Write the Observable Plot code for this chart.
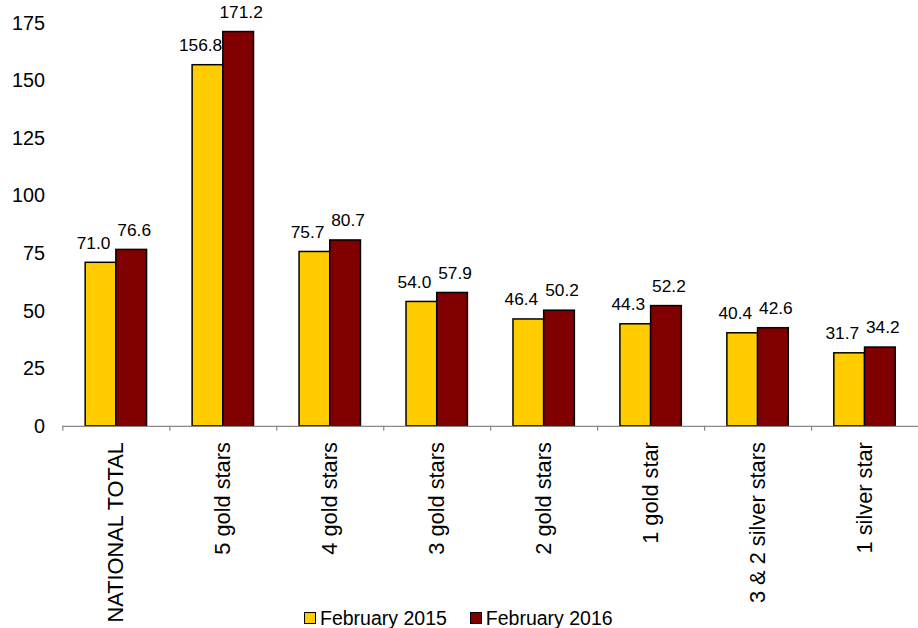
<!DOCTYPE html>
<html>
<head>
<meta charset="utf-8">
<script src="https://cdn.jsdelivr.net/npm/d3@7"></script>
<script src="https://cdn.jsdelivr.net/npm/@observablehq/plot@0.6"></script>
<style>
  html, body { margin: 0; padding: 0; background: #fff; overflow: hidden; }
  #wrap { position: relative; width: 918px; height: 628px; overflow: hidden; font-family: "Liberation Sans", Arial, sans-serif; }
  #legend { position: absolute; left: 304px; top: 608px; display: flex; align-items: center; font-size: 19.5px; color: #000; line-height: 20px; height: 20px; }
  .item { display: flex; align-items: center; margin-right: 23px; }
  .sw { width: 10px; height: 10px; border: 1.5px solid #000; margin-right: 4px; }
</style>
</head>
<body>
<div id="wrap"><div id="chart"></div><div id="legend"></div></div>
<script>
const categories = ["NATIONAL TOTAL", "5 gold stars", "4 gold stars", "3 gold stars", "2 gold stars", "1 gold star", "3 & 2 silver stars", "1 silver star"];
const feb2015 = [71.0, 156.8, 75.7, 54.0, 46.4, 44.3, 40.4, 31.7];
const feb2016 = [76.6, 171.2, 80.7, 57.9, 50.2, 52.2, 42.6, 34.2];
const seriesNames = ["February 2015", "February 2016"];
const seriesColors = ["#FFCC00", "#800000"];
const yTicks = [0, 25, 50, 75, 100, 125, 150, 175];

const d15 = categories.map((c, i) => ({cat: c, value: feb2015[i]}));
const d16 = categories.map((c, i) => ({cat: c, value: feb2016[i]}));

const font = "Liberation Sans, Arial, sans-serif";
const chart = Plot.plot({
  width: 927,
  height: 628,
  marginLeft: 63,
  marginRight: 0,
  marginTop: 23,
  marginBottom: 198,
  style: {fontFamily: font, color: "#000", background: "#fff", overflow: "visible"},
  x: {domain: categories, paddingInner: 0.426, paddingOuter: 0.213, label: null},
  y: {domain: [0, 175], label: null},
  marks: [
    Plot.barY(d15, {x: "cat", y: "value", fill: seriesColors[0], stroke: "#000", strokeWidth: 1.5, insetRight: 31}),
    Plot.barY(d16, {x: "cat", y: "value", fill: seriesColors[1], stroke: "#000", strokeWidth: 1.5, insetLeft: 31}),
    Plot.ruleY([0], {stroke: "#888", strokeWidth: 1.2}),
    Plot.ruleX(categories, {x: d => d, y1: 0, y2: 0, dx: -54, insetBottom: -5, stroke: "#888", strokeWidth: 1.2}),
    Plot.text(d15, {x: "cat", y: "value", text: d => d.value.toFixed(1), dx: -23, dy: -20, fontSize: 17.5, fill: "#000"}),
    Plot.text(d16, {x: "cat", y: "value", text: d => d.value.toFixed(1), dx: 18, dy: -20, fontSize: 17.5, fill: "#000"}),
    Plot.axisY({ticks: yTicks, tickSize: 0, tickPadding: 18, fontSize: 20, label: null}),
    Plot.axisX({tickRotate: -90, tickSize: 0, tickPadding: 16, fontSize: 22, label: null})
  ]
});
document.getElementById("chart").appendChild(chart);

const legend = document.getElementById("legend");
seriesNames.forEach((n, i) => {
  const it = document.createElement("div");
  it.className = "item";
  const sw = document.createElement("div");
  sw.className = "sw";
  sw.style.background = seriesColors[i];
  const t = document.createElement("span");
  t.textContent = n;
  it.appendChild(sw);
  it.appendChild(t);
  legend.appendChild(it);
});
</script>
</body>
</html>
